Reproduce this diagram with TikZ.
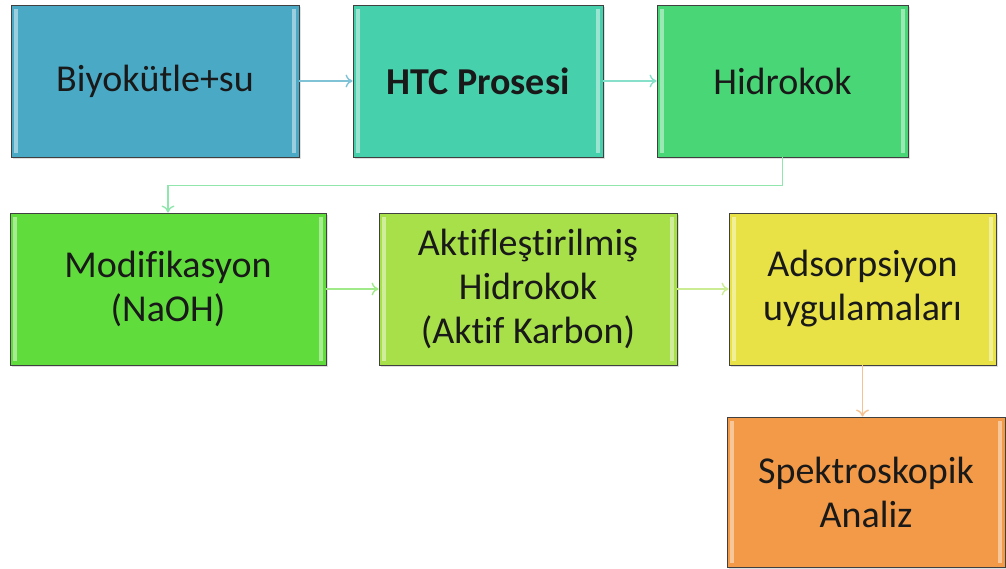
\documentclass[tikz,border=0pt]{standalone}
\usepackage{fontspec}
\setmainfont{Carlito}[Ligatures=NoCommon]
\usetikzlibrary{arrows.meta,shadows}

\definecolor{biyo}{HTML}{4AA9C5}
\definecolor{htc}{HTML}{47D0AC}
\definecolor{hidro}{HTML}{48D677}
\definecolor{modif}{HTML}{60DC3C}
\definecolor{aktif}{HTML}{A8E04A}
\definecolor{ads}{HTML}{E8E246}
\definecolor{spek}{HTML}{F29A48}

\begin{document}
\begin{tikzpicture}[x=1pt, y=-1pt,
  stepbox/.style={draw=black!75, line width=0.9pt, align=center,
    minimum height=152pt, inner sep=0pt, text=black!90,
    font=\fontsize{38}{44}\selectfont,
    drop shadow={shadow xshift=2pt, shadow yshift=-2pt, opacity=0.25},
    path picture={
      \fill[white, opacity=0.45]
        ([xshift=3pt, yshift=-4pt]path picture bounding box.north west)
        rectangle ([xshift=7pt, yshift=4pt]path picture bounding box.south west);
      \fill[white, opacity=0.45]
        ([xshift=-7pt, yshift=-4pt]path picture bounding box.north east)
        rectangle ([xshift=-3pt, yshift=4pt]path picture bounding box.south east);
    }},
  link/.style={line width=1.4pt, -{To[length=7pt, width=13pt]}}]

  \useasboundingbox (0,0) rectangle (1006,569);

  \node[stepbox, fill=biyo, minimum width=288pt] (biyo) at (155,81) {Biyokütle+su};
  \node[stepbox, fill=htc, minimum width=250pt] (htc) at (478,81) {\bfseries HTC Prosesi};
  \node[stepbox, fill=hidro, minimum width=251pt] (hidro) at (782.5,81) {Hidrokok};
  \node[stepbox, fill=modif, minimum width=316pt] (modif) at (168,289) {Modifikasyon\\(NaOH)};
  \node[stepbox, fill=aktif, minimum width=298pt] (aktif) at (528,289) {Aktifleştirilmiş\\Hidrokok\\(Aktif Karbon)};
  \node[stepbox, fill=ads, minimum width=267pt] (ads) at (862.5,289) {Adsorpsiyon\\uygulamaları};
  \node[stepbox, fill=spek, minimum width=278pt, minimum height=150pt] (spek) at (866,492) {Spektroskopik\\Analiz};

  \draw[link, color=biyo!70!white] (biyo) -- (htc);
  \draw[link, color=htc!65!white] (htc) -- (hidro);
  \draw[link, color=hidro!60!white] (hidro.south) -- ++(0,28) -| (modif.north);
  \draw[link, color=modif!60!white] (modif) -- (aktif);
  \draw[link, color=aktif!60!white] (aktif) -- (ads);
  \draw[link, color=spek!60!white] (ads.south) -- (ads.south |- spek.north);

\end{tikzpicture}
\end{document}
